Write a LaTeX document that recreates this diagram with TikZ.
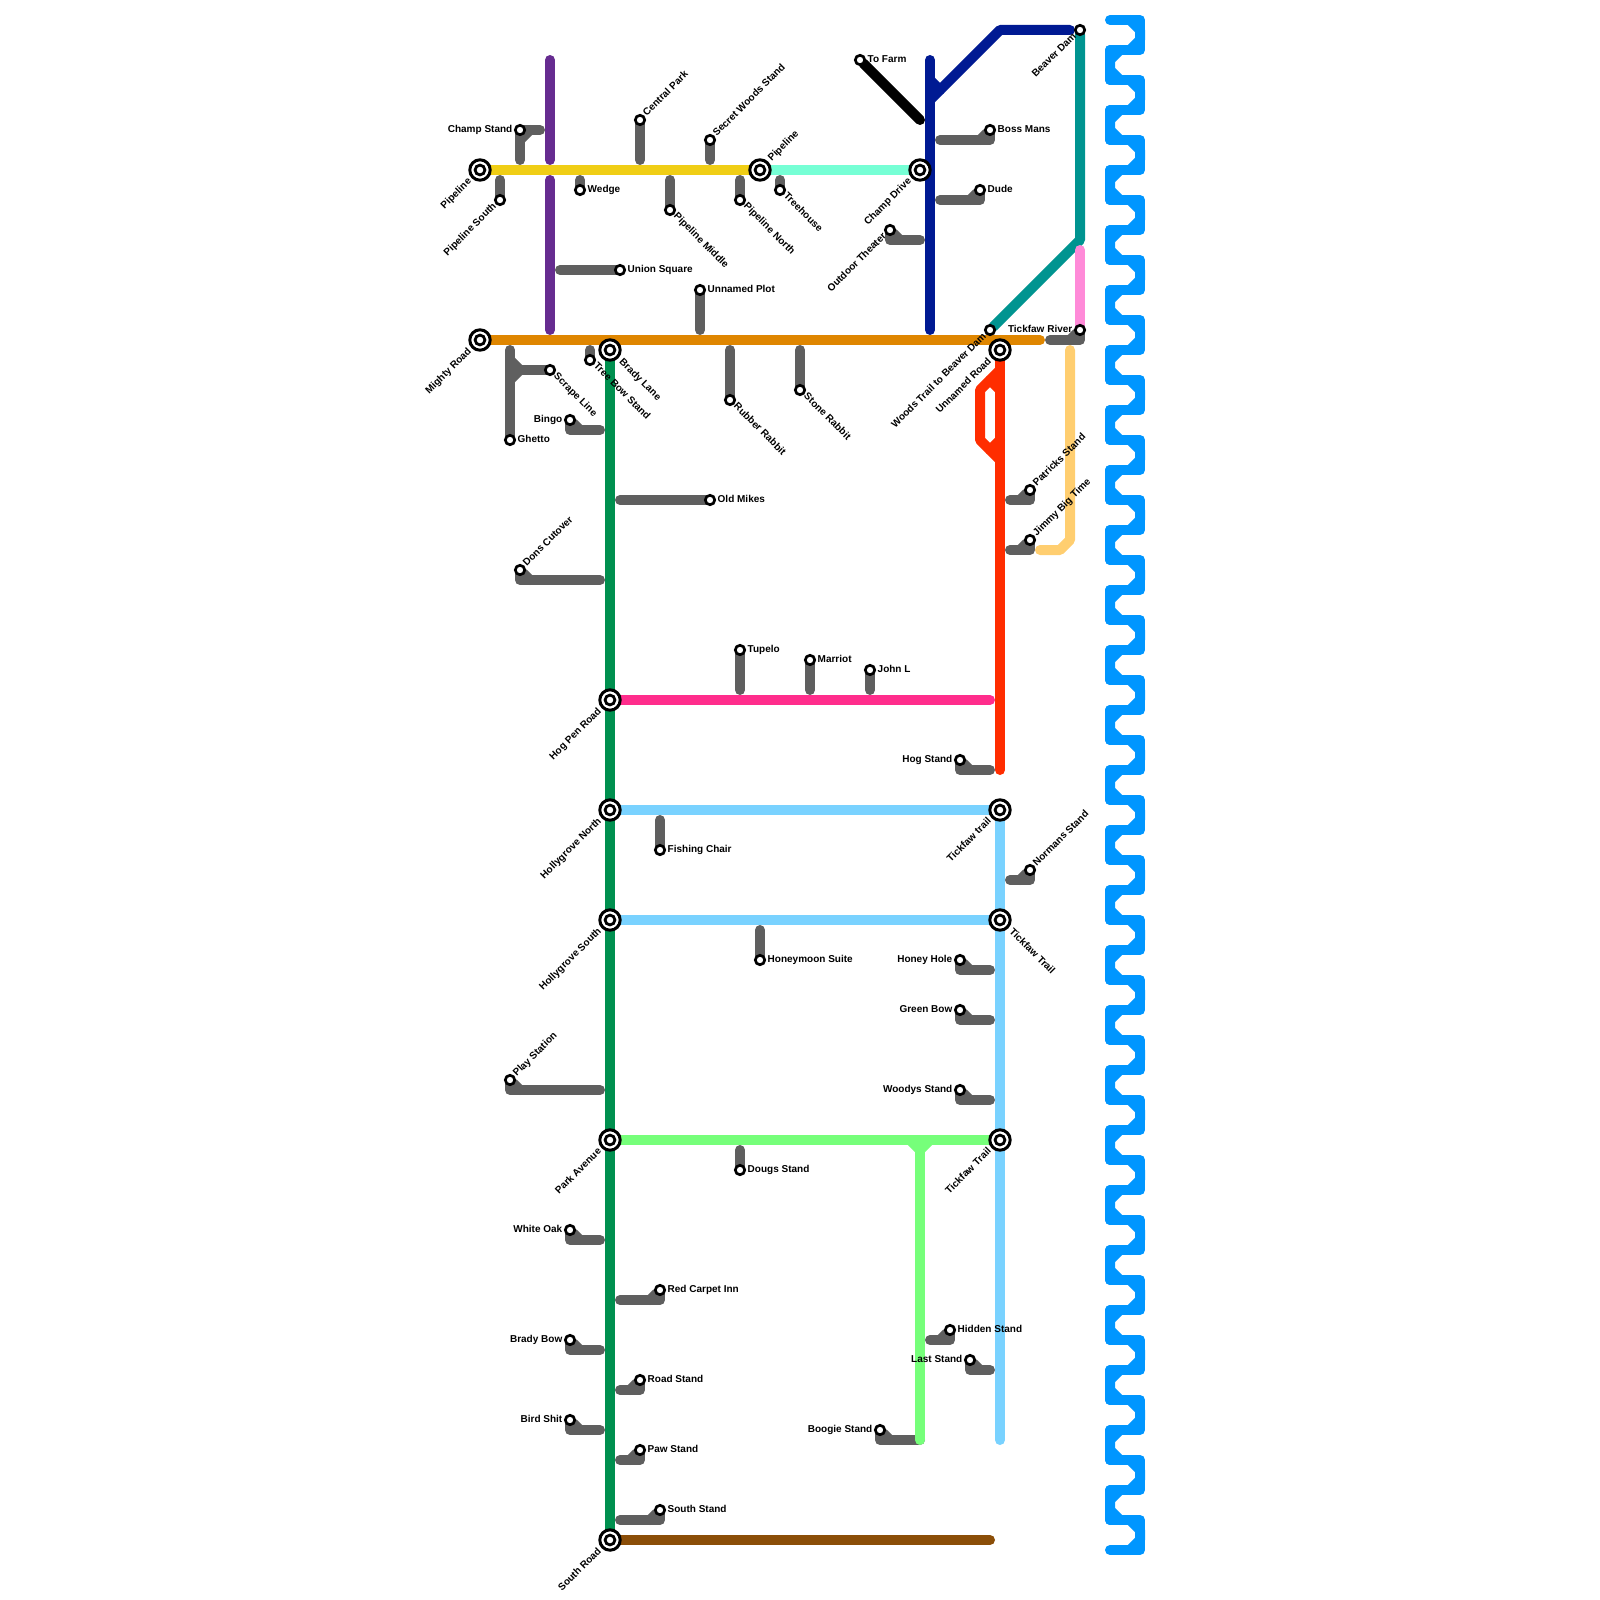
\documentclass[tikz,border=0pt]{standalone}
\usepackage{fontspec}
\setmainfont{Liberation Sans}
\usetikzlibrary{calc}
\pgfdeclarelayer{lines}
\pgfsetlayers{lines,main}
\definecolor{spurgray}{HTML}{5F5F5F}
\definecolor{linepurple}{HTML}{662C90}
\definecolor{lineyellow}{HTML}{F0CE15}
\definecolor{lineaqua}{HTML}{76FFD5}
\definecolor{linenavy}{HTML}{001A93}
\definecolor{lineteal}{HTML}{009490}
\definecolor{lineorange}{HTML}{DF8600}
\definecolor{linegreen}{HTML}{00904F}
\definecolor{linehot}{HTML}{FF2D8C}
\definecolor{linesky}{HTML}{79D2FF}
\definecolor{linelime}{HTML}{76FF7A}
\definecolor{linebrown}{HTML}{8B4E08}
\definecolor{linered}{HTML}{FF2D00}
\definecolor{linepink}{HTML}{FF8AD8}
\definecolor{linesand}{HTML}{FFCE70}
\definecolor{linewater}{HTML}{0096FF}

\begin{document}
\begin{tikzpicture}[
  x=1pt,y=-1pt,
  route/.style={line width=10pt,line cap=round,line join=round},
  spur/.style={route,spurgray},
  halt/.style={circle,draw=black,fill=white,line width=2.7pt,minimum size=9.4pt,inner sep=0pt,outer sep=0pt},
  hub/.style={circle,draw=black,fill=white,line width=3pt,minimum size=20.4pt,inner sep=0pt,outer sep=0pt,
    path picture={\draw[line width=2.8pt] (path picture bounding box.center) circle (4.9pt);}},
  tag/.style={font=\bfseries\fontsize{10}{12}\selectfont,inner sep=0pt,text height=7.2pt,text depth=2pt},
  tagE/.style={tag,anchor=west,xshift=7.5pt},
  tagW/.style={tag,anchor=east,xshift=-7.5pt},
  tagNE/.style={tag,xshift=\gap,yshift=\gap,rotate=45,anchor=west},
  tagSE/.style={tag,xshift=\gap,yshift=-\gap,rotate=-45,anchor=west},
  tagSW/.style={tag,xshift=-\gap,yshift=-\gap,rotate=45,anchor=east}
]
  \useasboundingbox (0,0) rectangle (1600,1600);

  \foreach \id/\xx/\yy/\shape/\gap/\kind/\name in {
    pipeline-west/480/170/hub/10pt/tagSW/Pipeline,
    pipeline-east/760/170/hub/10pt/tagNE/Pipeline,
    champ-drive/920/170/hub/10pt/tagSW/Champ Drive,
    mighty-road/480/340/hub/10pt/tagSW/Mighty Road,
    brady-lane/610/350/hub/10.5pt/tagSE/Brady Lane,
    unnamed-road/1000/350/hub/10pt/tagSW/Unnamed Road,
    hog-pen/610/700/hub/10pt/tagSW/Hog Pen Road,
    holly-north/610/810/hub/10pt/tagSW/Hollygrove North,
    holly-south/610/920/hub/10pt/tagSW/Hollygrove South,
    park-avenue/610/1140/hub/10pt/tagSW/Park Avenue,
    south-road/610/1540/hub/10pt/tagSW/South Road,
    tickfaw-north/1000/810/hub/10pt/tagSW/Tickfaw trail,
    tickfaw-mid/1000/920/hub/10.5pt/tagSE/Tickfaw Trail,
    tickfaw-south/1000/1140/hub/10pt/tagSW/Tickfaw Trail,
    to-farm/860/60/halt/5pt/tagE/To Farm,
    beaver-dam/1080/30/halt/5pt/tagSW/Beaver Dam,
    woods-trail/990/330/halt/5pt/tagSW/Woods Trail to Beaver Dam
  }{
    \node[\shape] (\id) at (\xx,\yy) {};
    \node[\kind] (\id-text) at (\id) {\name};
  }

  \def\gap{5pt}
  \foreach \id/\xx/\yy/\ex/\ey/\kind/\name in {
    champ-stand/520/130/520/160/tagW/Champ Stand,
    central-park/640/120/640/160/tagNE/Central Park,
    secret-woods/710/140/710/160/tagNE/Secret Woods Stand,
    wedge/580/190/580/180/tagE/Wedge,
    pipeline-south/500/200/500/180/tagSW/Pipeline South,
    pipeline-middle/670/210/670/180/tagSE/Pipeline Middle,
    pipeline-north/740/200/740/180/tagSE/Pipeline North,
    treehouse/780/190/780/180/tagSE/Treehouse,
    union-square/620/270/560/270/tagE/Union Square,
    unnamed-plot/700/290/700/330/tagE/Unnamed Plot,
    scrape-line/550/370/510/370/tagSE/Scrape Line,
    tree-bow/590/360/590/350/tagSE/Tree Bow Stand,
    ghetto/510/440/510/350/tagE/Ghetto,
    bingo/570/420/600/430/tagW/Bingo,
    rubber-rabbit/730/400/730/350/tagSE/Rubber Rabbit,
    stone-rabbit/800/390/800/350/tagSE/Stone Rabbit,
    old-mikes/710/500/620/500/tagE/Old Mikes,
    dons-cutover/520/570/600/580/tagNE/Dons Cutover,
    tupelo/740/650/740/690/tagE/Tupelo,
    marriot/810/660/810/690/tagE/Marriot,
    john-l/870/670/870/690/tagE/John L,
    hog-stand/960/760/990/770/tagW/Hog Stand,
    fishing-chair/660/850/660/820/tagE/Fishing Chair,
    honeymoon/760/960/760/930/tagE/Honeymoon Suite,
    honey-hole/960/960/990/970/tagW/Honey Hole,
    green-bow/960/1010/990/1020/tagW/Green Bow,
    woodys-stand/960/1090/990/1100/tagW/Woodys Stand,
    play-station/510/1080/600/1090/tagNE/Play Station,
    dougs-stand/740/1170/740/1150/tagE/Dougs Stand,
    white-oak/570/1230/600/1240/tagW/White Oak,
    red-carpet/660/1290/620/1300/tagE/Red Carpet Inn,
    hidden-stand/950/1330/930/1340/tagE/Hidden Stand,
    last-stand/970/1360/990/1370/tagW/Last Stand,
    brady-bow/570/1340/600/1350/tagW/Brady Bow,
    road-stand/640/1380/620/1390/tagE/Road Stand,
    bird-shit/570/1420/600/1430/tagW/Bird Shit,
    boogie-stand/880/1430/920/1440/tagW/Boogie Stand,
    paw-stand/640/1450/620/1460/tagE/Paw Stand,
    south-stand/660/1510/620/1520/tagE/South Stand,
    normans-stand/1030/870/1010/880/tagNE/Normans Stand,
    patricks-stand/1030/490/1010/500/tagNE/Patricks Stand,
    jimmy-big-time/1030/540/1010/550/tagNE/Jimmy Big Time,
    boss-mans/990/130/940/140/tagE/Boss Mans,
    dude/980/190/940/200/tagE/Dude,
    outdoor-theater/890/230/920/240/tagSW/Outdoor Theater,
    tickfaw-river/1080/330/1050/340/tagW/Tickfaw River
  }{
    \node[halt] (\id) at (\xx,\yy) {};
    \node[\kind] (\id-text) at (\id) {\name};
    \coordinate (\id-end) at (\ex,\ey);
    \begin{pgfonlayer}{lines}
      \draw[spur] (\id) |- (\id-end);
      \ifnum\xx=\ex\else
        \draw[spur] (\id) -- ($(\id |- \id-end)!10pt!(\id-end)$);
      \fi
    \end{pgfonlayer}
  }

  \begin{pgfonlayer}{lines}
    \coordinate (champ-arm) at (540,130);
    \coordinate (champ-elbow) at (530,130);
    \coordinate (champ-knee) at (520,140);
    \draw[spur] (champ-stand) -- (champ-arm);
    \draw[spur] (champ-elbow) -- (champ-knee);
    \coordinate (scrape-fork) at (520,370);
    \coordinate (scrape-up) at (510,360);
    \coordinate (scrape-down) at (510,380);
    \draw[spur] (scrape-up) -- (scrape-fork) -- (scrape-down);

    \coordinate (purple-top) at (550,60);
    \coordinate (purple-gap-a) at (550,160);
    \coordinate (purple-gap-b) at (550,180);
    \coordinate (purple-end) at (550,330);
    \draw[route,linepurple] (purple-top) -- (purple-gap-a);
    \draw[route,linepurple] (purple-gap-b) -- (purple-end);

    \draw[route,lineyellow] (pipeline-west) -- (pipeline-east);
    \draw[route,lineaqua] (pipeline-east) -- (champ-drive);

    \coordinate (navy-top) at (930,60);
    \coordinate (navy-end) at (930,330);
    \coordinate (navy-fork) at (930,100);
    \coordinate (navy-notch) at (930,80);
    \coordinate (navy-knee) at (940,90);
    \coordinate (navy-bend) at (1000,30);
    \coordinate (navy-stop) at (1070,30);
    \draw[route,linenavy] (navy-top) -- (navy-end);
    \draw[route,linenavy] (navy-fork) -- (navy-bend) -- (navy-stop);
    \draw[route,linenavy] (navy-notch) -- (navy-knee);

    \coordinate (farm-end) at (920,120);
    \draw[route,black] (to-farm) -- (farm-end);

    \coordinate (teal-bend) at (1080,240);
    \draw[route,lineteal] (beaver-dam) -- (teal-bend) -- (woods-trail);
    \coordinate (pink-top) at (1080,250);
    \draw[route,linepink] (pink-top) -- (tickfaw-river);

    \coordinate (orange-end) at (1040,340);
    \draw[route,lineorange] (mighty-road) -- (orange-end);
    \draw[route,linegreen] (brady-lane) -- (south-road);

    \coordinate (hot-end) at (990,700);
    \draw[route,linehot] (hog-pen) -- (hot-end);
    \draw[route,linesky] (holly-north) -- (tickfaw-north);
    \draw[route,linesky] (holly-south) -- (tickfaw-mid);
    \coordinate (sky-end) at (1000,1440);
    \draw[route,linesky] (tickfaw-north) -- (sky-end);

    \coordinate (lime-left) at (910,1140);
    \coordinate (lime-fork) at (920,1150);
    \coordinate (lime-right) at (930,1140);
    \coordinate (lime-end) at (920,1440);
    \draw[route,linelime] (park-avenue) -- (tickfaw-south);
    \draw[route,linelime] (lime-left) -- (lime-fork) -- (lime-right);
    \draw[route,linelime] (lime-fork) -- (lime-end);

    \coordinate (brown-end) at (990,1540);
    \draw[route,linebrown] (south-road) -- (brown-end);

    \coordinate (red-end) at (1000,770);
    \coordinate (red-out) at (1000,370);
    \coordinate (red-top) at (980,390);
    \coordinate (red-low) at (980,440);
    \coordinate (red-in) at (1000,460);
    \coordinate (red-tent-a) at (990,380);
    \coordinate (red-tent-b) at (1000,390);
    \coordinate (red-tent-c) at (1000,440);
    \coordinate (red-tent-d) at (990,450);
    \draw[route,linered] (unnamed-road) -- (red-end);
    \draw[route,linered] (red-out) -- (red-top) -- (red-low) -- (red-in);
    \draw[route,linered] (red-tent-a) -- (red-tent-b);
    \draw[route,linered] (red-tent-c) -- (red-tent-d);

    \coordinate (sand-top) at (1070,350);
    \coordinate (sand-bend) at (1070,540);
    \coordinate (sand-foot) at (1060,550);
    \coordinate (sand-end) at (1040,550);
    \draw[route,linesand] (sand-top) -- (sand-bend) -- (sand-foot) -- (sand-end);

    \foreach \row in {0,2,...,50}{
      \pgfmathsetmacro{\ya}{20+30*\row}
      \pgfmathsetmacro{\yb}{\ya+30}
      \pgfmathsetmacro{\yc}{\ya+60}
      \draw[route,linewater] (1110,\ya) -- (1140,\ya) -- (1140,\yb) -- (1110,\yb);
      \draw[route,linewater] (1130,\ya) -- (1140,\ya+10) -- (1140,\ya+20) -- (1130,\yb);
      \ifnum\row<50
        \draw[route,linewater] (1110,\yb) -- (1110,\yc);
        \draw[route,linewater] (1120,\yb) -- (1110,\yb+10) -- (1110,\yb+20) -- (1120,\yc);
      \fi
    }
  \end{pgfonlayer}
\end{tikzpicture}
\end{document}
